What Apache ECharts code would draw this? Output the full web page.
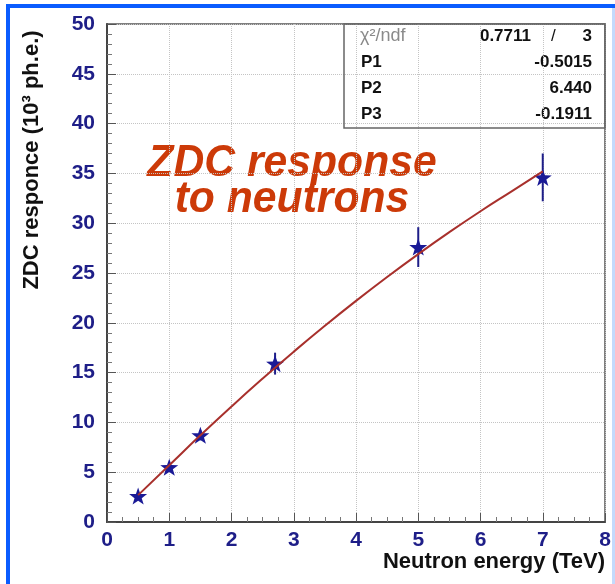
<!DOCTYPE html>
<html>
<head>
<meta charset="utf-8">
<script src="https://cdn.jsdelivr.net/npm/echarts@6/dist/echarts.min.js"></script>
<style>
  html, body { margin: 0; padding: 0; background: #fff; }
  #chart { width: 615px; height: 584px; }
</style>
</head>
<body>
<div id="chart"></div>
<script>
// measured points (neutron energy in TeV, response in 10^3 ph.e.)
const energy = [0.5, 1, 1.5, 2.7, 5, 7];
const response = [2.6, 5.5, 8.7, 15.9, 27.6, 34.6];
const responseErr = [0.3, 0.4, 0.5, 1.1, 2.0, 2.4];

// fitted curve
const fitX = [0.5, 1, 1.5, 2, 2.5, 3, 3.5, 4, 4.5, 5, 5.5, 6, 6.5, 7];
const fitY = [2.7, 5.7, 8.7, 11.6, 14.4, 17.1, 19.7, 22.2, 24.6, 26.9, 29.1, 31.2, 33.2, 35.2];

// fit statistics box
const statLabels = ['P1', 'P2', 'P3'];
const statValues = ['-0.5015', '6.440', '-0.1911'];
const chi2 = '0.7711';
const ndf = '3';

const starPath = 'path://M10,0 L12.35,6.76 L19.51,6.91 L13.8,11.24 L15.88,18.09 L10,14 L4.12,18.09 L6.2,11.24 L0.49,6.91 L7.65,6.76 Z';
const navy = '#1e1e88';
const font = 'Liberation Sans, Arial, Helvetica, sans-serif';

const chart = echarts.init(document.getElementById('chart'));

const statText = [];
statText.push({
  type: 'text', left: 360, top: 27,
  style: { text: 'χ²/ndf', font: '18px ' + font, fill: '#8a8a8a' }
});
statText.push({
  type: 'text', right: 615 - 531, top: 28,
  style: { text: chi2, font: 'bold 17px ' + font, fill: '#111' }
});
statText.push({
  type: 'text', left: 551, top: 28,
  style: { text: '/', font: '17px ' + font, fill: '#111' }
});
statText.push({
  type: 'text', right: 615 - 592, top: 28,
  style: { text: ndf, font: 'bold 17px ' + font, fill: '#111' }
});
statLabels.forEach((lab, i) => {
  statText.push({
    type: 'text', left: 361, top: 54 + i * 26,
    style: { text: lab, font: 'bold 17px ' + font, fill: '#111' }
  });
  statText.push({
    type: 'text', right: 615 - 592, top: 54 + i * 26,
    style: { text: statValues[i], font: 'bold 17px ' + font, fill: '#111' }
  });
});

const option = {
  backgroundColor: '#fff',
  animation: false,
  grid: {
    left: 107, top: 24, right: 10, bottom: 62,
    show: true, borderColor: '#555', borderWidth: 1.5
  },
  xAxis: {
    type: 'value', min: 0, max: 8, interval: 1,
    axisLine: { lineStyle: { color: '#444', width: 2 } },
    axisTick: { inside: true, length: 9, lineStyle: { color: '#555' } },
    minorTick: { show: true, splitNumber: 4, length: 5, lineStyle: { color: '#777' } },
    splitLine: { lineStyle: { color: '#c4c4c4', type: 'dotted' } },
    axisLabel: { color: navy, fontFamily: font, fontWeight: 'bold', fontSize: 21, margin: 8 }
  },
  yAxis: {
    type: 'value', min: 0, max: 50, interval: 5,
    axisLine: { show: true, lineStyle: { color: '#444', width: 2 } },
    axisTick: { show: true, inside: true, length: 9, lineStyle: { color: '#555' } },
    minorTick: { show: true, splitNumber: 5, length: 5, lineStyle: { color: '#777' } },
    splitLine: { lineStyle: { color: '#c4c4c4', type: 'dotted' } },
    axisLabel: { color: navy, fontFamily: font, fontWeight: 'bold', fontSize: 21, margin: 12 }
  },
  graphic: [
    // page frame
    { type: 'rect', shape: { x: 6, y: 4, width: 609, height: 4 }, style: { fill: '#0a5cff' } },
    { type: 'rect', shape: { x: 6, y: 4, width: 4, height: 580 }, style: { fill: '#0a5cff' } },
    { type: 'rect', shape: { x: 612, y: 8, width: 3, height: 576 }, style: { fill: '#c4dafc' } },
    // stats box
    { type: 'rect', shape: { x: 344, y: 24, width: 261, height: 104 },
      style: { fill: 'none', stroke: '#666', lineWidth: 1.5 }, z: 10 },
    ...statText,
    // axis titles
    { type: 'text', x: 32, y: 160, rotation: Math.PI / 2,
      style: { text: 'ZDC responce (10³ ph.e.)', font: 'bold 22px ' + font, fill: '#111',
               align: 'center', verticalAlign: 'middle' } },
    { type: 'text', right: 10, top: 551,
      style: { text: 'Neutron energy (TeV)', font: 'bold 22px ' + font, fill: '#111' } },
    // annotation
    { type: 'text', x: 292, y: 142, scaleX: 0.97,
      style: { text: 'ZDC response', font: 'italic bold 44px ' + font, fill: '#cc3a08',
               align: 'center', verticalAlign: 'top' } },
    { type: 'text', x: 292, y: 178, scaleX: 0.97,
      style: { text: 'to neutrons', font: 'italic bold 44px ' + font, fill: '#cc3a08',
               align: 'center', verticalAlign: 'top' } }
  ],
  series: [
    {
      type: 'custom',
      name: 'errors',
      data: energy.map((x, i) => [x, response[i], responseErr[i]]),
      renderItem: function (params, api) {
        const lo = api.coord([api.value(0), api.value(1) - api.value(2)]);
        const hi = api.coord([api.value(0), api.value(1) + api.value(2)]);
        return {
          type: 'line',
          shape: { x1: lo[0], y1: lo[1], x2: hi[0], y2: hi[1] },
          style: { stroke: navy, lineWidth: 2 }
        };
      },
      z: 2
    },
    {
      type: 'scatter',
      name: 'data',
      data: energy.map((x, i) => [x, response[i]]),
      symbol: starPath,
      symbolSize: [18, 17],
      itemStyle: { color: '#1a1a96', opacity: 1 },
      z: 3
    },
    {
      type: 'line',
      name: 'fit',
      data: fitX.map((x, i) => [x, fitY[i]]),
      smooth: true,
      showSymbol: false,
      lineStyle: { color: '#a8302c', width: 2 },
      z: 4
    }
  ]
};

chart.setOption(option);
</script>
</body>
</html>
